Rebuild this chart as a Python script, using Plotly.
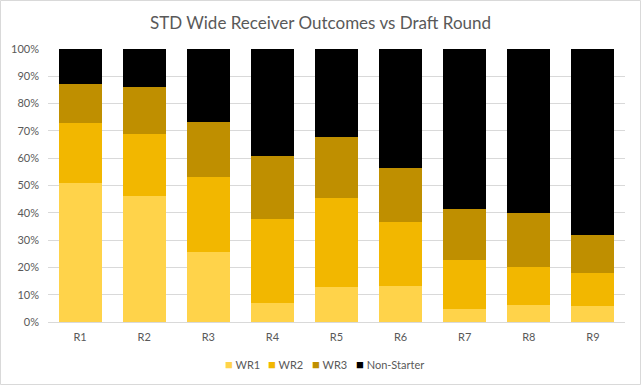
import plotly.graph_objects as go

rounds = ["R1", "R2", "R3", "R4", "R5", "R6", "R7", "R8", "R9"]
wr1 = [51.0, 46.0, 25.7, 7.1, 12.9, 13.3, 4.9, 6.3, 6.0]
wr2 = [22.0, 23.0, 27.5, 30.7, 32.6, 23.4, 17.9, 13.9, 12.0]
wr3 = [14.0, 17.2, 20.1, 23.1, 22.3, 19.8, 18.7, 19.8, 14.0]
non_starter = [13.0, 13.8, 26.7, 39.1, 32.2, 43.5, 58.5, 60.0, 68.0]

series = [
    ("WR1", wr1, "#FFD34A"),
    ("WR2", wr2, "#F2B700"),
    ("WR3", wr3, "#BF8F00"),
    ("Non-Starter", non_starter, "#000000"),
]

fig = go.Figure()
for name, vals, col in series:
    fig.add_trace(go.Bar(x=rounds, y=vals, name=name, showlegend=False,
                         marker=dict(color=col, line=dict(width=0))))

W, H = 641, 385
ml, mr, mt, mb = 48, 16, 49, 63
pw = W - ml - mr
ph = H - mt - mb

def px_x(p):
    return (p - ml) / pw

def px_y(p):
    return (H - mb - p) / ph

legend_x = [223, 266, 310, 354]
annotations = []
for (name, vals, col), lx in zip(series, legend_x):
    annotations.append(dict(
        xref="paper", yref="paper", x=px_x(lx), y=px_y(364), xanchor="left", yanchor="middle",
        showarrow=False,
        text=f"<span style='color:{col};font-size:13px'>■</span> {name}",
        font=dict(size=11, color="#595959")))

fig.update_layout(
    width=W, height=H,
    barmode="stack", barnorm="percent", bargap=0.33,
    margin=dict(l=ml, r=mr, t=mt, b=mb, autoexpand=False),
    paper_bgcolor="white", plot_bgcolor="white",
    font=dict(family="Lato, 'Open Sans', sans-serif", size=11, color="#595959"),
    title=dict(text="STD Wide Receiver Outcomes vs Draft Round", x=0.5, xanchor="center",
               y=1 - 23 / H, yanchor="middle",
               font=dict(size=17, color="#595959")),
    showlegend=False,
    annotations=annotations,
    xaxis=dict(showgrid=False, showline=True, linecolor="#D9D9D9", ticks="",
               ticklabelstandoff=5,
               tickfont=dict(size=11, color="#595959"), automargin=False),
    yaxis=dict(range=[0, 100], dtick=10, ticksuffix="%", gridcolor="#D9D9D9",
               showline=False, zeroline=False, automargin=False, ticklabelstandoff=8,
               tickfont=dict(size=11, color="#595959")),
    hovermode=False,
    shapes=[dict(type="rect", xref="paper", yref="paper",
                 x0=px_x(0.5), x1=px_x(W - 0.5),
                 y0=px_y(H - 0.5), y1=px_y(0.5),
                 line=dict(color="#D9D9D9", width=1))],
)

fig.write_html("out.html", config={"displayModeBar": False},
               post_script="document.body.style.margin='0';")
